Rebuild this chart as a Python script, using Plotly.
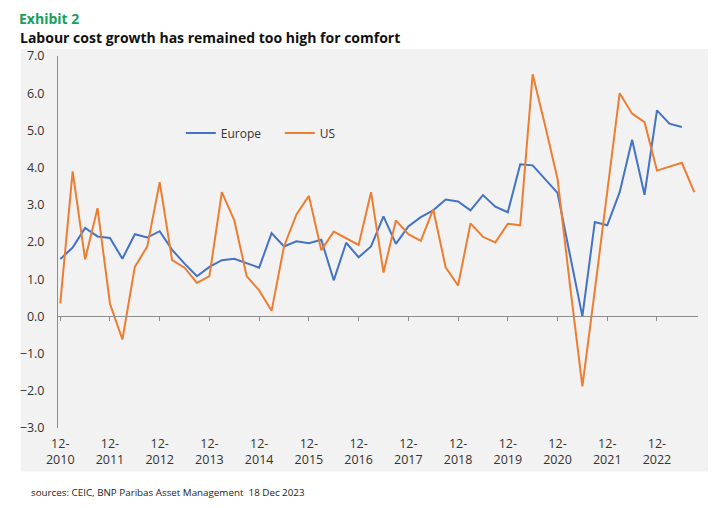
import plotly.graph_objects as go

# quarter ends, 12-2010 .. 09-2023
quarters = ["2010-12",
            "2011-03", "2011-06", "2011-09", "2011-12",
            "2012-03", "2012-06", "2012-09", "2012-12",
            "2013-03", "2013-06", "2013-09", "2013-12",
            "2014-03", "2014-06", "2014-09", "2014-12",
            "2015-03", "2015-06", "2015-09", "2015-12",
            "2016-03", "2016-06", "2016-09", "2016-12",
            "2017-03", "2017-06", "2017-09", "2017-12",
            "2018-03", "2018-06", "2018-09", "2018-12",
            "2019-03", "2019-06", "2019-09", "2019-12",
            "2020-03", "2020-06", "2020-09", "2020-12",
            "2021-03", "2021-06", "2021-09", "2021-12",
            "2022-03", "2022-06", "2022-09", "2022-12",
            "2023-03", "2023-06", "2023-09"]

europe = [1.54, 1.85, 2.38, 2.15, 2.11, 1.55, 2.21, 2.12, 2.29, 1.79,
          1.42, 1.08, 1.33, 1.51, 1.55, 1.43, 1.31, 2.24, 1.88, 2.02,
          1.97, 2.06, 0.97, 1.98, 1.59, 1.88, 2.69, 1.95, 2.42, 2.67,
          2.85, 3.14, 3.09, 2.85, 3.26, 2.95, 2.80, 4.09, 4.06, 3.69,
          3.32, 1.65, 0.00, 2.54, 2.45, 3.34, 4.75, 3.27, 5.54, 5.18,
          5.09]

us = [0.35, 3.90, 1.53, 2.91, 0.34, -0.62, 1.33, 1.88, 3.61, 1.51,
      1.31, 0.90, 1.08, 3.34, 2.58, 1.08, 0.70, 0.15, 1.88, 2.74,
      3.24, 1.78, 2.28, 2.11, 1.92, 3.34, 1.18, 2.58, 2.21, 2.03,
      2.88, 1.32, 0.83, 2.50, 2.14, 1.99, 2.49, 2.45, 6.51, 5.13,
      3.70, 0.85, -1.88, 0.70, 3.30, 6.00, 5.45, 5.22, 3.92, 4.03,
      4.13, 3.34]

tick_quarters = ["2010-12", "2011-12", "2012-12", "2013-12", "2014-12",
                 "2015-12", "2016-12", "2017-12", "2018-12", "2019-12",
                 "2020-12", "2021-12", "2022-12"]
tick_text = [q[5:] + "-<br>" + q[:4] for q in tick_quarters]

y_min, y_max = -3, 7

W, H = 725, 508
OFF = 8   # page body margin, the figure sits 8px in from the window corner
# plot area in window pixels, shifted into figure pixels
L, R, T, B = 54.5 - OFF, 698 - OFF, 56 - OFF, 427.6 - OFF


def px(x):
    return (x - OFF - L) / (R - L)


def py(y):
    return (B - (y - OFF)) / (B - T)


font = "Open Sans, Noto Sans, sans-serif"
axis_grey = "#8c8c8c"
text_col = "#333333"

fig = go.Figure()
fig.add_trace(go.Scatter(x=quarters, y=europe, name="Europe", mode="lines",
                         line=dict(color="#4472C4", width=2)))
fig.add_trace(go.Scatter(x=quarters, y=us, name="US", mode="lines",
                         line=dict(color="#ED7D31", width=2), xaxis="x2"))

xrange = [-0.18, 51.3]

fig.update_layout(
    width=W, height=H,
    margin=dict(l=L, r=W - R, t=T, b=H - B),
    paper_bgcolor="white",
    plot_bgcolor="#f2f2f2",
    font=dict(family=font, size=12, color=text_col),
    showlegend=True,
    legend=dict(orientation="h", x=px(178), y=py(133), xanchor="left",
                yanchor="middle", bgcolor="rgba(0,0,0,0)",
                font=dict(size=12, color=text_col),
                itemwidth=30, entrywidth=54),
    xaxis=dict(type="category", range=xrange, tickvals=tick_quarters,
               ticktext=tick_text, showline=False, ticks="",
               showgrid=False, zeroline=False, tickfont=dict(size=12.5),
               ticklabelstandoff=6),
    xaxis2=dict(type="category", matches="x", overlaying="x",
                anchor="free", position=(0 - y_min) / (y_max - y_min),
                tickvals=tick_quarters, showticklabels=False,
                showline=True, linecolor=axis_grey, linewidth=1,
                ticks="outside", ticklen=4, tickcolor=axis_grey,
                showgrid=False, zeroline=False),
    yaxis=dict(range=[y_min, y_max], dtick=1, tickformat=".1f",
               showline=True, linecolor=axis_grey, linewidth=1,
               ticks="", showgrid=False, zeroline=False,
               tickfont=dict(size=12.5), ticklabelstandoff=10),
    shapes=[dict(type="rect", xref="paper", yref="paper",
                 x0=px(17), x1=px(708), y0=py(471), y1=py(49),
                 fillcolor="#f2f2f2", line=dict(width=0), layer="below")],
    annotations=[
        dict(text="<b>Exhibit 2</b>", xref="paper", yref="paper",
             x=px(14), y=py(8.5), xanchor="left", yanchor="top",
             borderpad=0, showarrow=False,
             font=dict(size=14, color="#16a05c")),
        dict(text="<b>Labour cost growth has remained too high for comfort</b>",
             xref="paper", yref="paper", x=px(14), y=py(38),
             xanchor="left", yanchor="middle", showarrow=False,
             font=dict(size=14, color="#111111")),
        dict(text="sources: CEIC, BNP Paribas Asset Management  18 Dec 2023",
             xref="paper", yref="paper", x=px(25), y=py(492),
             xanchor="left", yanchor="middle", showarrow=False,
             font=dict(size=9.8, color="#222222")),
    ],
)

fig.write_html("out.html")
